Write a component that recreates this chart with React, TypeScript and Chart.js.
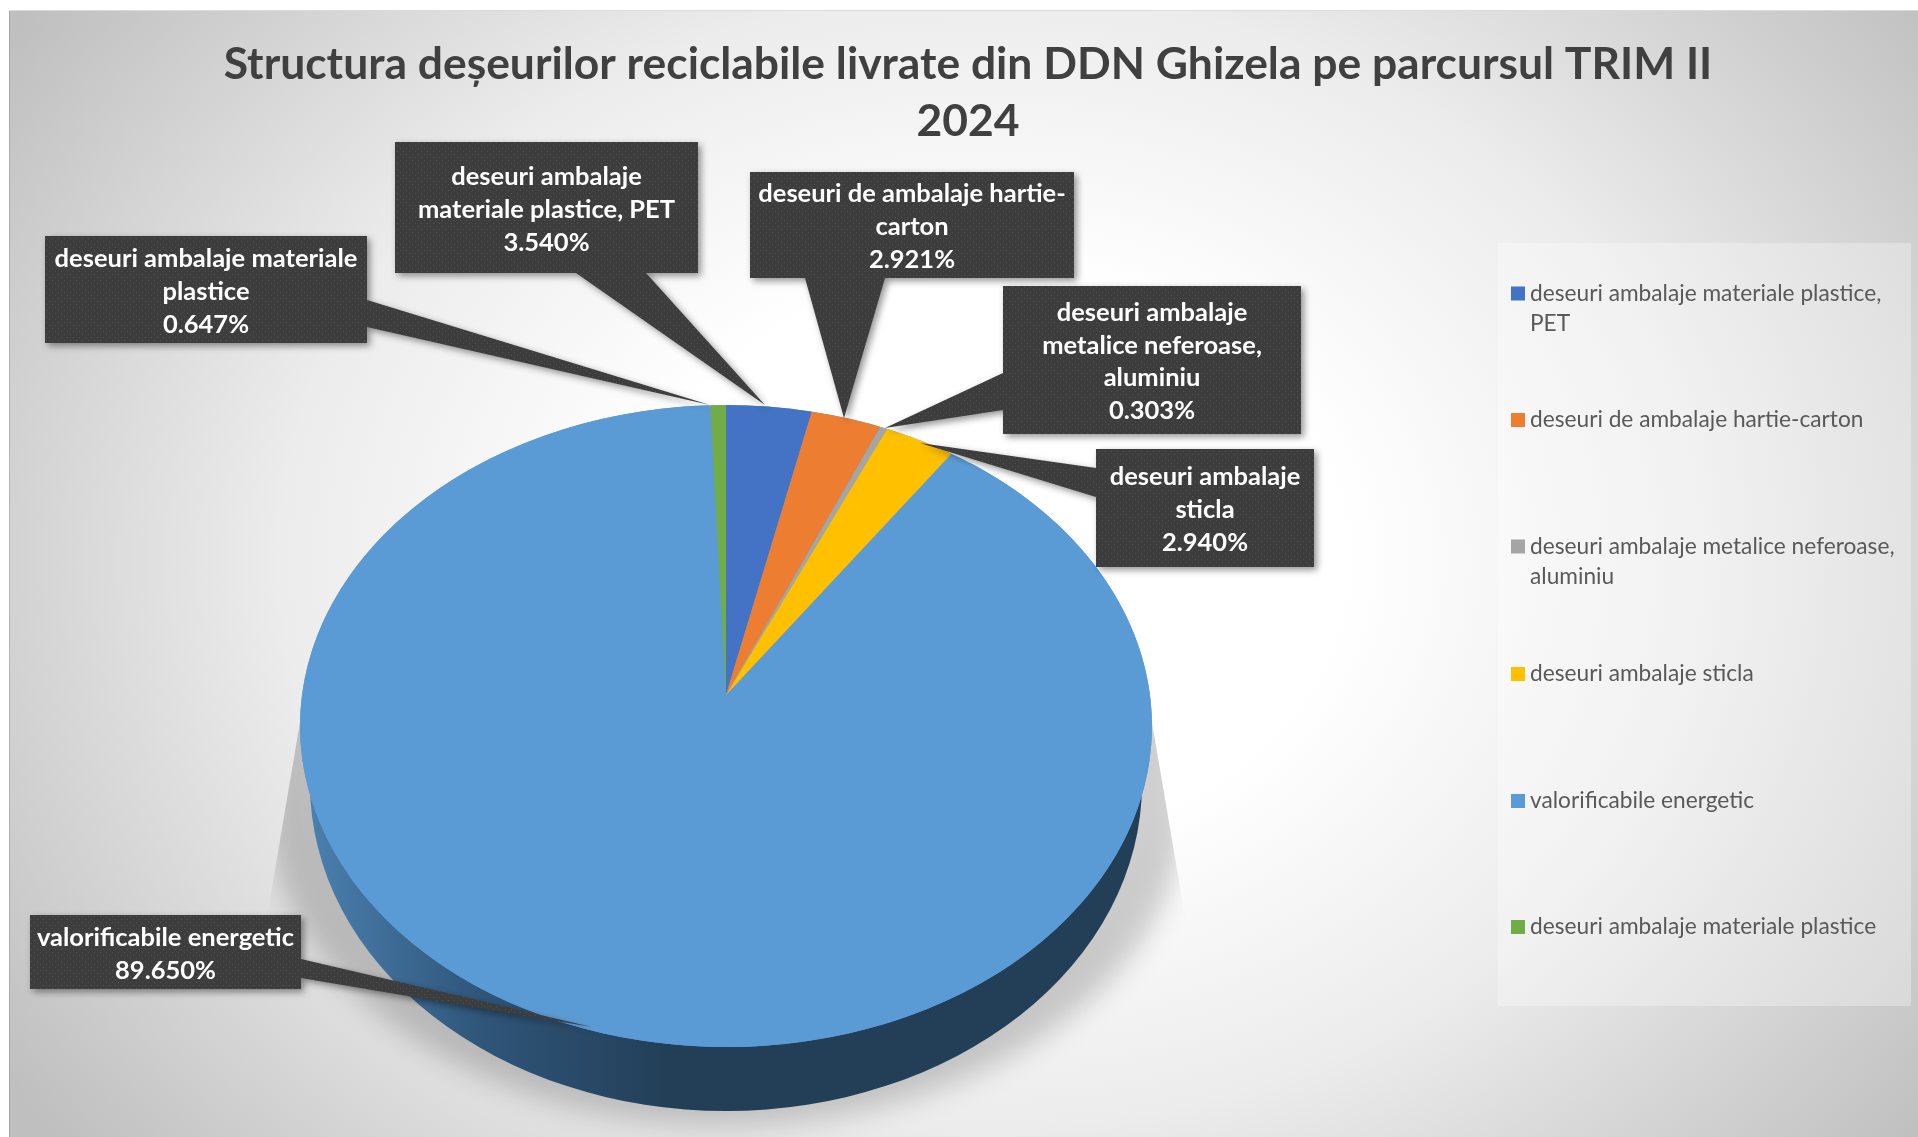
import React, { useEffect, useRef } from "react";
import { Chart, registerables } from "chart.js";

Chart.register(...registerables);

const titleLines = ["Structura deșeurilor reciclabile livrate din DDN Ghizela pe parcursul TRIM II", "2024"];
const categories = [
  "deseuri ambalaje materiale plastice, PET",
  "deseuri de ambalaje hartie-carton",
  "deseuri ambalaje metalice neferoase, aluminiu",
  "deseuri ambalaje sticla",
  "valorificabile energetic",
  "deseuri ambalaje materiale plastice",
];
const values = [3.54, 2.921, 0.303, 2.94, 89.65, 0.647];
const colors = ["#4472c4", "#ed7d31", "#a5a5a5", "#ffc000", "#5b9bd5", "#70ad47"];
const calloutText = [
  ["deseuri ambalaje", "materiale plastice, PET"],
  ["deseuri de ambalaje hartie-", "carton"],
  ["deseuri ambalaje", "metalice neferoase,", "aluminiu"],
  ["deseuri ambalaje", "sticla"],
  ["valorificabile energetic"],
  ["deseuri ambalaje materiale", "plastice"],
];
const legendText = [
  ["deseuri ambalaje materiale plastice,", "PET"],
  ["deseuri de ambalaje hartie-carton"],
  ["deseuri ambalaje metalice neferoase,", "aluminiu"],
  ["deseuri ambalaje sticla"],
  ["valorificabile energetic"],
  ["deseuri ambalaje materiale plastice"],
];

// Layout of the annotations (box x0,y0,x1,y1; leader as polygon points from box edge to tip)
const calloutLayout = [
  { box: [395, 142, 698, 273], leader: [[576, 273], [765, 405], [646, 273]], lh: 33 },
  { box: [750, 172, 1074, 278], leader: [[805, 278], [844, 418], [885, 278]], lh: 33 },
  { box: [1003, 286, 1301, 434], leader: [[1003, 373], [885, 428], [1003, 410]], lh: 32.5 },
  { box: [1096, 449, 1314, 567], leader: [[1096, 468], [920, 443], [1096, 497]], lh: 33 },
  { box: [30, 915, 301, 989], leader: [[301, 959], [592, 1027], [301, 978]], lh: 33 },
  { box: [45, 236, 367, 343], leader: [[367, 300], [710, 405], [367, 327]], lh: 33 },
];
const legendPanel = [1498, 243, 1911, 1006];
const legendRowY = [293.5, 420, 546.5, 674, 801, 927];

const PIE_X = 726;
const TOP_CY = 726;
const TOP_RX = 426;
const TOP_RY = 321;
const BOTTOM_CY = 784;
const BOTTOM_RX = 416;
const BOTTOM_RY = 327;
const APEX_Y = 695;
const WEDGE_SX = 415;
const WEDGE_SY = 310;
const BIG_INDEX = 4;

const FONT = "Lato, 'Open Sans', sans-serif";

function makePattern(ctx: CanvasRenderingContext2D) {
  const c = document.createElement("canvas");
  c.width = 6;
  c.height = 6;
  const p = c.getContext("2d")!;
  p.fillStyle = "#3d3d3d";
  p.fillRect(0, 0, 6, 6);
  p.fillStyle = "#525252";
  p.fillRect(1, 1, 1, 1);
  p.fillRect(4, 4, 1, 1);
  return ctx.createPattern(c, "repeat")!;
}

const backgroundPlugin = {
  id: "panelBackground",
  beforeDraw(chart: any) {
    const ctx: CanvasRenderingContext2D = chart.ctx;
    ctx.save();
    ctx.fillStyle = "#ffffff";
    ctx.fillRect(0, 0, chart.width, chart.height);
    ctx.translate(990, 560);
    ctx.scale(1, 0.8);
    const g = ctx.createRadialGradient(0, 0, 0, 0, 0, 1180);
    g.addColorStop(0, "#ffffff");
    g.addColorStop(0.3, "#ffffff");
    g.addColorStop(0.6, "#ececec");
    g.addColorStop(0.85, "#d0d0d0");
    g.addColorStop(1, "#bfbfbf");
    ctx.fillStyle = g;
    ctx.fillRect(-981, -549 / 0.8, 1909, 1126 / 0.8);
    ctx.restore();
    ctx.save();
    ctx.strokeStyle = "rgba(0,0,0,0.14)";
    ctx.lineWidth = 1;
    ctx.beginPath();
    ctx.moveTo(9.5, 1137);
    ctx.lineTo(9.5, 10.5);
    ctx.lineTo(1918, 10.5);
    ctx.stroke();
    ctx.restore();
  },
};

const pie3dPlugin = {
  id: "pie3d",
  beforeDatasetDraw(chart: any, args: any) {
    const ctx: CanvasRenderingContext2D = chart.ctx;
    const arcs = chart.getDatasetMeta(args.index).data;
    const R = arcs[0].outerRadius;
    const ax = arcs[0].x;
    const ay = arcs[0].y;

    // cast shadow
    ctx.save();
    ctx.beginPath();
    ctx.moveTo(PIE_X - TOP_RX, TOP_CY - 4);
    ctx.lineTo(PIE_X + TOP_RX, TOP_CY - 4);
    ctx.lineTo(PIE_X + TOP_RX + 31, 905);
    ctx.lineTo(PIE_X + TOP_RX + 120, 1137);
    ctx.lineTo(PIE_X - TOP_RX - 120, 1137);
    ctx.lineTo(PIE_X - TOP_RX - 31, 905);
    ctx.closePath();
    ctx.clip();
    (ctx as any).filter = "blur(14px)";
    ctx.fillStyle = "rgba(0,0,0,0.19)";
    ctx.beginPath();
    ctx.ellipse(PIE_X, 800, 460, 325, 0, 0, Math.PI * 2);
    ctx.fill();
    (ctx as any).filter = "none";
    ctx.restore();

    // side wall
    const side = ctx.createLinearGradient(PIE_X - TOP_RX, 0, PIE_X - 60, 0);
    side.addColorStop(0, "#4c82b2");
    side.addColorStop(0.5, "#2f5579");
    side.addColorStop(1, "#233f58");
    ctx.fillStyle = side;
    ctx.beginPath();
    ctx.ellipse(PIE_X, BOTTOM_CY, BOTTOM_RX, BOTTOM_RY, 0, 0, Math.PI * 2);
    ctx.fill();

    // top face: base ellipse, then the large slice
    ctx.fillStyle = colors[BIG_INDEX];
    ctx.beginPath();
    ctx.ellipse(PIE_X, TOP_CY, TOP_RX, TOP_RY, 0, 0, Math.PI * 2);
    ctx.fill();

    ctx.save();
    ctx.translate(PIE_X, TOP_CY);
    ctx.scale(TOP_RX / R, TOP_RY / R);
    ctx.translate(-ax, -ay);
    arcs[BIG_INDEX].draw(ctx);
    ctx.restore();

    // the narrow slices converge on the perspective apex, clipped to the face
    ctx.save();
    ctx.beginPath();
    ctx.ellipse(PIE_X, TOP_CY, TOP_RX, TOP_RY, 0, 0, Math.PI * 2);
    ctx.clip();
    ctx.translate(PIE_X, APEX_Y);
    ctx.scale(WEDGE_SX / R, WEDGE_SY / R);
    ctx.translate(-ax, -ay);
    arcs.forEach((arc: any, i: number) => {
      if (i !== BIG_INDEX) arc.draw(ctx);
    });
    ctx.restore();
    return false;
  },
};

const annotationPlugin = {
  id: "annotations",
  afterDraw(chart: any) {
    const ctx: CanvasRenderingContext2D = chart.ctx;
    const pattern = makePattern(ctx);
    const ds = chart.data.datasets[0];
    const labels: string[] = chart.data.labels;

    // legend panel
    ctx.save();
    ctx.fillStyle = "rgba(255,255,255,0.3)";
    const [px0, py0, px1, py1] = legendPanel;
    ctx.fillRect(px0, py0, px1 - px0, py1 - py0);
    ctx.textBaseline = "middle";
    ctx.textAlign = "left";
    ctx.font = `22.7px ${FONT}`;
    labels.forEach((_, i) => {
      ctx.fillStyle = ds.backgroundColor[i];
      ctx.fillRect(1511, legendRowY[i] - 7, 14, 14);
      ctx.fillStyle = "#595959";
      legendText[i].forEach((line, k) => ctx.fillText(line, 1530, legendRowY[i] + k * 30));
    });
    ctx.restore();

    // callouts
    ds.data.forEach((v: number, i: number) => {
      const { box, leader, lh } = calloutLayout[i];
      const [x0, y0, x1, y1] = box;
      ctx.save();
      ctx.shadowColor = "rgba(0,0,0,0.42)";
      ctx.shadowBlur = 7;
      ctx.shadowOffsetX = 3;
      ctx.shadowOffsetY = 3;
      ctx.fillStyle = pattern;
      ctx.beginPath();
      ctx.rect(x0, y0, x1 - x0, y1 - y0);
      ctx.moveTo(leader[0][0], leader[0][1]);
      ctx.lineTo(leader[1][0], leader[1][1]);
      ctx.lineTo(leader[2][0], leader[2][1]);
      ctx.closePath();
      ctx.fill("nonzero");
      ctx.restore();

      const lines = [...calloutText[i], `${v.toFixed(3)}%`];
      ctx.save();
      ctx.fillStyle = "#ffffff";
      ctx.font = `bold 25.5px ${FONT}`;
      ctx.textAlign = "center";
      ctx.textBaseline = "middle";
      const cx = (x0 + x1) / 2;
      const cy = (y0 + y1) / 2 + 2;
      lines.forEach((line, k) => {
        ctx.fillText(line, cx, cy + (k - (lines.length - 1) / 2) * lh);
      });
      ctx.restore();
    });
  },
};

export default function App() {
  const ref = useRef<HTMLCanvasElement>(null);
  useEffect(() => {
    const chart = new Chart(ref.current!, {
      type: "pie",
      data: {
        labels: categories,
        datasets: [{ data: values, backgroundColor: colors, borderWidth: 0 }],
      },
      options: {
        responsive: false,
        animation: false,
        layout: { padding: { left: 18, right: 0, top: 0, bottom: 90 } },
        plugins: {
          legend: { display: false },
          tooltip: { enabled: false },
          title: {
            display: true,
            text: titleLines,
            color: "#404040",
            font: { family: FONT, size: 44.4, weight: "bold", lineHeight: 1.29 },
            padding: { top: 36, bottom: 255 },
          },
        },
      },
      plugins: [backgroundPlugin, pie3dPlugin, annotationPlugin],
    } as any);
    return () => chart.destroy();
  }, []);
  return (
    <canvas
      ref={ref}
      width={1918}
      height={1137}
      style={{ position: "fixed", left: 0, top: 0, display: "block" }}
    />
  );
}
